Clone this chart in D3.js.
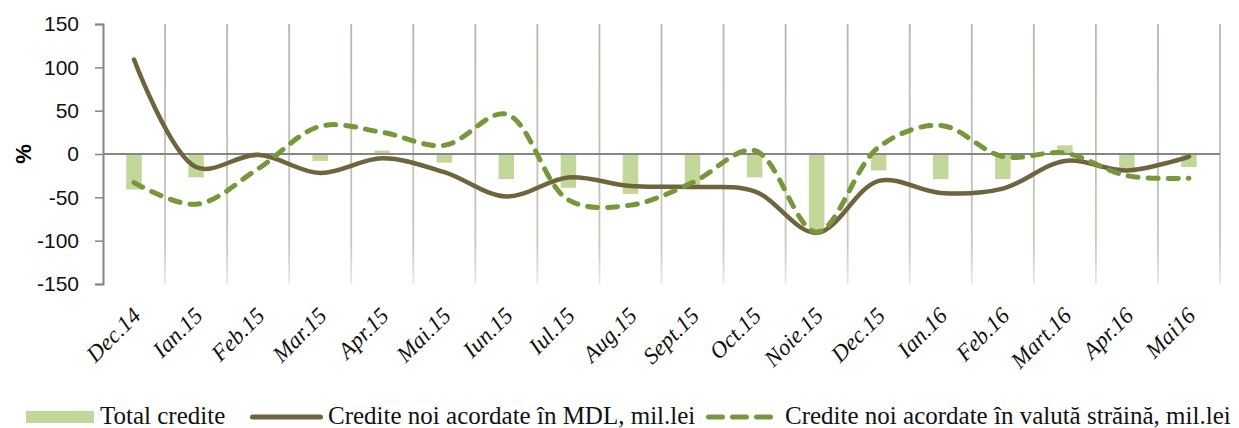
<!DOCTYPE html>
<html>
<head>
<meta charset="utf-8">
<script src="https://cdn.jsdelivr.net/npm/d3@7"></script>
<style>
  body { margin: 0; background: #fff; }
  svg { display: block; }
</style>
</head>
<body>
<div id="chart"></div>
<script>
// data

var categories = ["Dec.14", "Ian.15", "Feb.15", "Mar.15", "Apr.15", "Mai.15", "Iun.15", "Iul.15", "Aug.15",
	"Sept.15", "Oct.15", "Noie.15", "Dec.15", "Ian.16", "Feb.16", "Mart.16", "Apr.16", "Mai16"];

var totalCredite = [-41, -27, -4, -8, 4, -10, -29, -39, -46, -38, -27, -88, -19, -29, -29, 10, -18, -15];

var crediteMDL = [109, -15, -1, -22, -5, -21, -49, -27, -37, -38, -43, -91, -31, -45, -40, -8, -19, -3];

var crediteValuta = [-33, -58, -17, 32, 25, 10, 46, -53, -59, -33, 4, -90, 8, 33, -3, 1, -25, -28];

var yTicks = [-150, -100, -50, 0, 50, 100, 150];

var legendItems = ["Total credite", "Credite noi acordate în MDL, mil.lei", "Credite noi acordate în valută străină, mil.lei"];

// layout

var width = 1239,
	height = 428,
	LEFT = 103,
	RIGHT = 1220,
	TOP = 24,
	BOTTOM = 284;

var BAR_COLOR = "#c4d79b",
	MDL_COLOR = "#6e653f",
	VAL_COLOR = "#77973a",
	AXIS_COLOR = "#868686";

var svg = d3.select("#chart").append("svg")
	.attr("width", width)
	.attr("height", height);

var x = d3.scaleBand()
	.domain(categories)
	.range([LEFT, RIGHT])
	.paddingInner(0.75)
	.paddingOuter(0.375);

var y = d3.scaleLinear()
	.domain([-150, 150])
	.range([BOTTOM, TOP]);

var cx = function(d) { return x(d) + x.bandwidth() / 2; };

// vertical gridlines between categories, fading a bit toward the bottom
var defs = svg.append("defs");
var grad = defs.append("linearGradient")
	.attr("id", "gridfade")
	.attr("gradientUnits", "userSpaceOnUse")
	.attr("x1", 0).attr("y1", TOP)
	.attr("x2", 0).attr("y2", BOTTOM);
grad.append("stop").attr("offset", "0").attr("stop-color", "#bab6a8");
grad.append("stop").attr("offset", "0.85").attr("stop-color", "#c9c6bb");
grad.append("stop").attr("offset", "1").attr("stop-color", "#ebe9e4");

svg.append("g")
	.selectAll("line")
	.data(categories)
	.enter()
	.append("line")
	.attr("x1", function(d) { return cx(d) + x.step() / 2; })
	.attr("x2", function(d) { return cx(d) + x.step() / 2; })
	.attr("y1", TOP)
	.attr("y2", BOTTOM)
	.style("stroke", "url(#gridfade)")
	.style("stroke-width", "1.8px");

// bars
svg.append("g")
	.selectAll("rect")
	.data(totalCredite)
	.enter()
	.append("rect")
	.attr("x", function(d, i) { return x(categories[i]); })
	.attr("width", x.bandwidth())
	.attr("y", function(d) { return y(Math.max(0, d)); })
	.attr("height", function(d) { return Math.abs(y(d) - y(0)); })
	.style("fill", BAR_COLOR);

// zero line
svg.append("line")
	.attr("x1", LEFT)
	.attr("x2", RIGHT)
	.attr("y1", y(0))
	.attr("y2", y(0))
	.style("stroke", AXIS_COLOR)
	.style("stroke-width", "2px");

// y axis
var yAxis = svg.append("g")
	.attr("transform", "translate(" + LEFT + ",0)")
	.call(d3.axisLeft(y).tickValues(yTicks).tickSize(8).tickPadding(16)
		.tickFormat(function(d) { return String(d); }));

yAxis.select(".domain").style("stroke", AXIS_COLOR).style("stroke-width", "2px");
yAxis.selectAll(".tick line").style("stroke", AXIS_COLOR).style("stroke-width", "1.5px");
yAxis.selectAll(".tick text")
	.style("font-family", "'Liberation Sans', Arial, sans-serif")
	.style("font-size", "21px")
	.style("fill", "#111");

svg.append("text")
	.attr("transform", "translate(31," + y(0) + ") rotate(-90)")
	.style("text-anchor", "middle")
	.style("font-family", "'Liberation Sans', Arial, sans-serif")
	.style("font-size", "22px")
	.style("font-weight", "bold")
	.text("%");

// lines
var line = d3.line()
	.x(function(d, i) { return cx(categories[i]); })
	.y(function(d) { return y(d); })
	.curve(d3.curveCatmullRom.alpha(0.5));

svg.append("path")
	.attr("d", line(crediteMDL))
	.style("fill", "none")
	.style("stroke", MDL_COLOR)
	.style("stroke-width", "4.5px")
	.style("stroke-linecap", "round");

svg.append("path")
	.attr("d", line(crediteValuta))
	.style("fill", "none")
	.style("stroke", VAL_COLOR)
	.style("stroke-width", "5px")
	.style("stroke-linecap", "round")
	.style("stroke-dasharray", "10,10");

// x labels
svg.append("g")
	.selectAll("text")
	.data(categories)
	.enter()
	.append("text")
	.attr("transform", function(d) {
		return "translate(" + (cx(d) + 8) + "," + (BOTTOM + 33) + ") rotate(-45)";
	})
	.style("text-anchor", "end")
	.style("font-family", "'Liberation Serif', 'Times New Roman', serif")
	.style("font-style", "italic")
	.style("font-size", "23px")
	.style("fill", "#111")
	.text(function(d) { return d; });

// legend
var legend = svg.append("g").attr("class", "legend");
var LEG_Y = 417;

legend.append("rect")
	.attr("x", 26).attr("y", LEG_Y - 6)
	.attr("width", 68).attr("height", 12)
	.style("fill", BAR_COLOR);

legend.append("line")
	.attr("x1", 252.5).attr("x2", 320.5)
	.attr("y1", LEG_Y).attr("y2", LEG_Y)
	.style("stroke", MDL_COLOR)
	.style("stroke-width", "5px")
	.style("stroke-linecap", "round");

legend.append("line")
	.attr("x1", 708.5).attr("x2", 770.5)
	.attr("y1", LEG_Y).attr("y2", LEG_Y)
	.style("stroke", VAL_COLOR)
	.style("stroke-width", "5px")
	.style("stroke-linecap", "round")
	.style("stroke-dasharray", "14,10");

legend.selectAll("text.leg")
	.data(legendItems)
	.enter()
	.append("text")
	.attr("class", "leg")
	.attr("x", function(d, i) { return [100, 328, 785][i]; })
	.attr("y", LEG_Y + 7)
	.style("font-family", "'Liberation Serif', 'Times New Roman', serif")
	.style("font-size", "25px")
	.style("fill", "#111")
	.text(function(d) { return d; });
</script>
</body>
</html>
